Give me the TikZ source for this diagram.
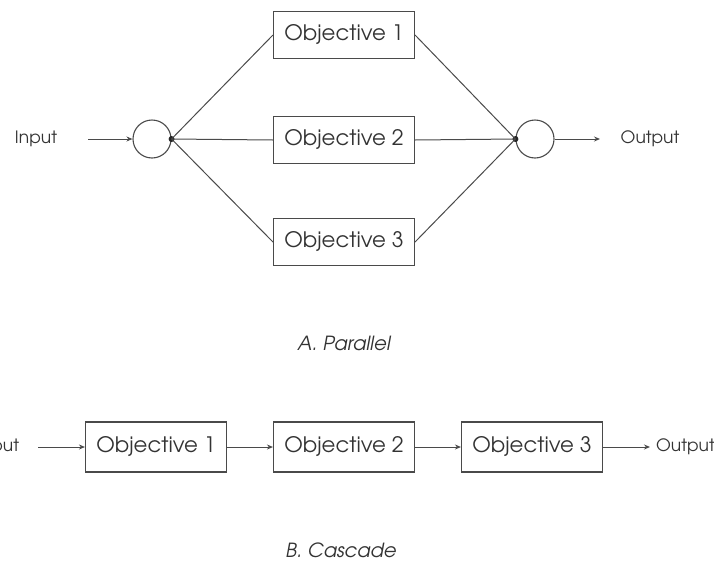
\documentclass[tikz,border=0pt]{standalone}
\usepackage{fontspec}
\setmainfont{TeX Gyre Adventor}
\usetikzlibrary{arrows.meta}
\definecolor{ln}{HTML}{4A4A4A}
\definecolor{tx}{HTML}{333333}
\tikzset{
  obj/.style={draw=ln, line width=1.1pt, minimum width=141pt, minimum height=47pt, inner sep=0pt, text=tx, font=\fontsize{21.3}{25}\selectfont},
  lbl/.style={text=tx, inner sep=0pt, font=\fontsize{17}{20}\selectfont},
  captext/.style={text=tx, inner sep=0pt, font=\fontsize{19.5}{23}\selectfont\itshape},
  sum/.style={draw=ln, line width=1.1pt, circle, minimum size=38pt, inner sep=0pt},
  junc/.style={circle, fill=black!85, minimum size=6pt, inner sep=0pt},
  wire/.style={draw=ln, line width=1pt},
  arr/.style={wire, -{Stealth[length=6pt,width=5pt]}}
}
\begin{document}
\begin{tikzpicture}[x=1pt,y=-1pt]
\useasboundingbox (0,0) rectangle (714,560);
% Parallel
\node[lbl] (in1) at (36,139) {Input};
\node[sum] (c1) at (152,139) {};
\node[junc] (d1) at (c1.east) {};
\node[obj] (o1) at (344,35) {Objective 1};
\node[obj] (o2) at (344,140) {Objective 2};
\node[obj] (o3) at (344,242) {Objective 3};
\node[sum] (c2) at (535,139) {};
\node[junc] (d2) at (c2.west) {};
\node[lbl] (out1) at (650,139) {Output};
\coordinate (a1) at (88,139);
\coordinate (a2) at (600,139);
\draw[arr] (a1) -- (c1.west);
\draw[wire] (d1.center) -- (o1.west);
\draw[wire] (d1.center) -- (o2.west);
\draw[wire] (d1.center) -- (o3.west);
\draw[wire] (o1.east) -- (d2.center);
\draw[wire] (o2.east) -- (d2.center);
\draw[wire] (o3.east) -- (d2.center);
\draw[arr] (c2.east) -- (a2);
\node[captext] (capA) at (344,343) {A. Parallel};
% Cascade
\node[lbl] (in2) at (-2,447) {Input};
\node[obj, minimum height=50pt] (k1) at (156,447) {Objective 1};
\node[obj, minimum height=50pt] (k2) at (344,447) {Objective 2};
\node[obj, minimum height=50pt] (k3) at (532,447) {Objective 3};
\node[lbl, anchor=west] (out2) at (656,447) {Output};
\coordinate (b1) at (38,447);
\coordinate (b2) at (650,447);
\draw[arr] (b1) -- (k1.west);
\draw[arr] (k1.east) -- (k2.west);
\draw[arr] (k2.east) -- (k3.west);
\draw[arr] (k3.east) -- (b2);
\node[captext] (capB) at (341,550) {B. Cascade};
\end{tikzpicture}
\end{document}
